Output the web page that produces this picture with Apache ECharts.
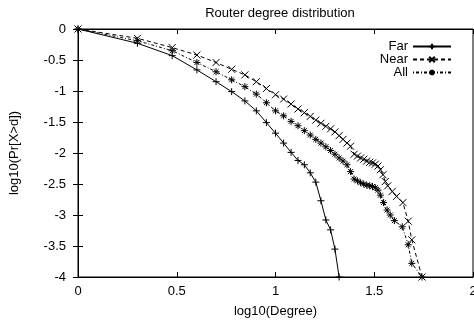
<!DOCTYPE html>
<html>
<head>
<meta charset="utf-8">
<script src="https://cdn.jsdelivr.net/npm/echarts@6/dist/echarts.min.js"></script>
<style>
  html, body { margin: 0; padding: 0; background: #fff; }
  #chart { width: 474px; height: 324px; }
</style>
</head>
<body>
<div id="chart"></div>
<script>
// log10(degree), log10(Pr[X>d])
const farData = [
  [0, 0], [0.301, -0.23], [0.477, -0.43], [0.602, -0.66], [0.699, -0.85],
  [0.778, -1.01], [0.845, -1.16], [0.903, -1.32], [0.954, -1.51], [1.0, -1.68],
  [1.041, -1.84], [1.079, -1.99], [1.114, -2.12], [1.146, -2.19], [1.176, -2.32],
  [1.204, -2.47], [1.23, -2.77], [1.255, -3.08], [1.279, -3.24], [1.301, -3.55],
  [1.322, -4.0]
];
const nearData = [
  [0, 0], [0.301, -0.15], [0.477, -0.30], [0.602, -0.42], [0.699, -0.54],
  [0.778, -0.65], [0.845, -0.74], [0.903, -0.85], [0.954, -0.96], [1.0, -1.06],
  [1.041, -1.13], [1.079, -1.21], [1.114, -1.29], [1.146, -1.35], [1.176, -1.41],
  [1.204, -1.47], [1.23, -1.52], [1.255, -1.57], [1.279, -1.61], [1.301, -1.66],
  [1.322, -1.72], [1.342, -1.78], [1.362, -1.84], [1.38, -1.89],
  [1.398, -2.02], [1.415, -2.05], [1.431, -2.08], [1.447, -2.10], [1.462, -2.13],
  [1.477, -2.15], [1.491, -2.16], [1.505, -2.18], [1.519, -2.21], [1.531, -2.27],
  [1.544, -2.35], [1.556, -2.46], [1.568, -2.53], [1.591, -2.62], [1.613, -2.70],
  [1.645, -2.80], [1.672, -3.10], [1.69, -3.40], [1.742, -4.0]
];
const allData = [
  [0, 0], [0.301, -0.19], [0.477, -0.35], [0.602, -0.54], [0.699, -0.69],
  [0.778, -0.82], [0.845, -0.93], [0.903, -1.05], [0.954, -1.19], [1.0, -1.32],
  [1.041, -1.40], [1.079, -1.49], [1.114, -1.56], [1.146, -1.64], [1.176, -1.71],
  [1.204, -1.78], [1.23, -1.84], [1.255, -1.90], [1.279, -1.96], [1.301, -2.02],
  [1.322, -2.08], [1.342, -2.13], [1.362, -2.19], [1.38, -2.30],
  [1.398, -2.42], [1.415, -2.45], [1.431, -2.48], [1.447, -2.50], [1.462, -2.52],
  [1.477, -2.53], [1.491, -2.54], [1.505, -2.56], [1.519, -2.60], [1.531, -2.68],
  [1.547, -2.80], [1.565, -2.92], [1.581, -3.00], [1.602, -3.09], [1.642, -3.19],
  [1.672, -3.48], [1.69, -3.78], [1.742, -4.0]
];
const seriesNames = ['Far', 'Near', 'All'];

const FONT = 'Liberation Sans, Arial, sans-serif';
const plus = 'path://M5,0L5,10M0,5L10,5';
const cross = 'path://M0,0L10,10M10,0L0,10';
const star = 'path://M5,0L5,10M0,5L10,5M1.5,1.5L8.5,8.5M8.5,1.5L1.5,8.5';

const chart = echarts.init(document.getElementById('chart'), null, { renderer: 'canvas' });

function mkSeries(name, data, symbol, dash) {
  return {
    name,
    type: 'line',
    data,
    symbol,
    symbolSize: 7,
    showAllSymbol: true,
    animation: false,
    lineStyle: { color: '#000', width: 1, type: dash },
    itemStyle: { color: '#000', borderColor: '#000', borderWidth: 1 }
  };
}

const tickStyle = { show: true, inside: true, length: 5, lineStyle: { color: '#000' } };

chart.setOption({
  animation: false,
  backgroundColor: '#fff',
  textStyle: { fontFamily: FONT, color: '#000' },
  title: {
    text: 'Router degree distribution',
    left: 275, top: 2, textAlign: 'center',
    textStyle: { fontSize: 13, fontWeight: 'normal', color: '#000', fontFamily: FONT }
  },
  legend: {
    orient: 'vertical',
    right: 17, top: 35,
    align: 'right',
    itemWidth: 38, itemHeight: 7, itemGap: 0,
    textStyle: { fontSize: 13, lineHeight: 12, color: '#000', fontFamily: FONT },
    data: seriesNames
  },
  grid: {
    left: 78, right: 1, top: 29, bottom: 47, outerBoundsMode: 'none',
    show: true, borderColor: '#000', borderWidth: 1, backgroundColor: 'transparent'
  },
  xAxis: [{
    type: 'value', min: 0, max: 2, interval: 0.5,
    name: 'log10(Degree)', nameLocation: 'middle', nameGap: 28,
    nameTextStyle: { fontSize: 13, color: '#000', fontFamily: FONT },
    axisLine: { show: true, onZero: false, lineStyle: { color: '#000' } },
    axisTick: tickStyle,
    axisLabel: { fontSize: 13, color: '#000', margin: 8, formatter: v => String(v) },
    splitLine: { show: false }
  }, {
    type: 'value', min: 0, max: 2, interval: 0.5, position: 'top',
    axisLine: { show: true, lineStyle: { color: '#000' } },
    axisTick: tickStyle, axisLabel: { show: false }, splitLine: { show: false }
  }],
  yAxis: [{
    type: 'value', min: -4, max: 0, interval: 0.5,
    name: 'log10(Pr[X>d])', nameLocation: 'middle', nameGap: 57, nameRotate: 90,
    nameTextStyle: { fontSize: 13, color: '#000', fontFamily: FONT },
    axisLine: { show: true, onZero: false, lineStyle: { color: '#000' } },
    axisTick: tickStyle,
    axisLabel: { fontSize: 13, color: '#000', margin: 12 },
    splitLine: { show: false }
  }, {
    type: 'value', min: -4, max: 0, interval: 0.5, position: 'right',
    axisLine: { show: true, lineStyle: { color: '#000' } },
    axisTick: tickStyle, axisLabel: { show: false }, splitLine: { show: false }
  }],
  series: [
    mkSeries('Far', farData, plus, 'solid'),
    mkSeries('Near', nearData, cross, [4, 3]),
    mkSeries('All', allData, star, [1, 2, 3, 2])
  ]
});
</script>
</body>
</html>
